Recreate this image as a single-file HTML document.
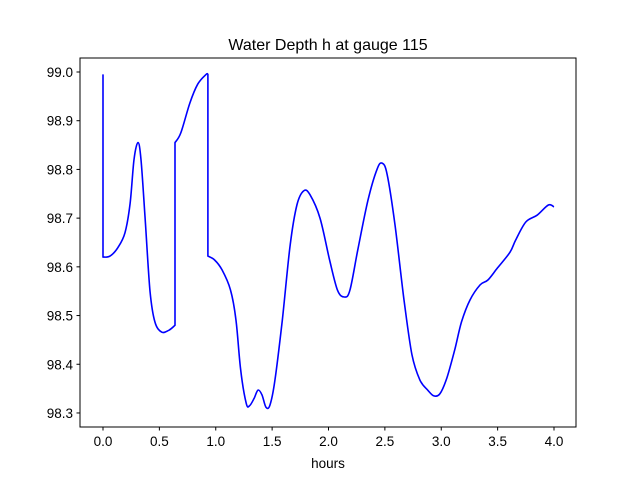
<!DOCTYPE html>
<html><head><meta charset="utf-8"><style>
html,body{margin:0;padding:0;background:#fff;}
svg{display:block;font-family:"Liberation Sans","DejaVu Sans",sans-serif;}
</style></head><body>
<svg id="chart" width="640" height="480">
<rect x="0" y="0" width="640" height="480" fill="#fff"/>
<text x="328" y="50" font-size="16" text-anchor="middle">Water Depth h at gauge 115</text>
<g id="plot"></g>
<rect x="80" y="58" width="496" height="369" fill="none" stroke="#000" stroke-width="1"/>
<text x="328" y="468" font-size="13.5" text-anchor="middle">hours</text>
</svg>
<script>
const hours=[0,0,0.062,0.133,0.195,0.24,0.275,0.31,0.337,0.373,0.417,0.46,0.52,0.585,0.639,0.639,0.69,0.77,0.84,0.914,0.93,0.93,0.99,1.055,1.13,1.18,1.22,1.27,1.30,1.34,1.375,1.41,1.445,1.48,1.525,1.59,1.66,1.72,1.78,1.836,1.925,2.01,2.08,2.14,2.19,2.26,2.35,2.43,2.475,2.52,2.59,2.67,2.74,2.81,2.88,2.935,2.99,3.05,3.12,3.18,3.255,3.345,3.414,3.50,3.61,3.66,3.75,3.85,3.95,4.0];
const depth=[98.995,98.62,98.622,98.64,98.67,98.73,98.82,98.855,98.82,98.70,98.55,98.487,98.466,98.47,98.48,98.855,98.875,98.936,98.975,98.995,98.995,98.622,98.614,98.594,98.553,98.49,98.39,98.32,98.315,98.33,98.347,98.337,98.312,98.316,98.367,98.49,98.645,98.727,98.756,98.748,98.70,98.614,98.552,98.538,98.552,98.635,98.737,98.8,98.813,98.79,98.686,98.532,98.42,98.368,98.347,98.335,98.34,98.372,98.43,98.487,98.532,98.563,98.573,98.598,98.63,98.655,98.692,98.706,98.727,98.723];
const xTicks=[0.0,0.5,1.0,1.5,2.0,2.5,3.0,3.5,4.0];
const yTicks=[98.3,98.4,98.5,98.6,98.7,98.8,98.9,99.0];
const NS="http://www.w3.org/2000/svg";
const sx=v=>103+v*112.75;
const sy=v=>72+(99.0-v)*487.1;
const g=document.getElementById('plot');
function mk(t,a){const e=document.createElementNS(NS,t);for(const k in a)e.setAttribute(k,a[k]);g.appendChild(e);return e;}
xTicks.forEach(t=>{
  const l=mk('line',{x1:sx(t),x2:sx(t),y1:427,y2:430.5,stroke:'#000'});
  
  
  const tx=mk('text',{x:sx(t),y:446,'font-size':13.5,'text-anchor':'middle'});
  tx.textContent=t.toFixed(1);
  
  
});
yTicks.forEach(t=>{
  const l=mk('line',{x1:76.5,x2:80,y1:sy(t),y2:sy(t),stroke:'#000'});
  
  
  const tx=mk('text',{x:73,y:sy(t)+5,'font-size':13.5,'text-anchor':'end'});
  tx.textContent=t.toFixed(1);
  
  
});
const P=hours.map((h,i)=>[sx(h),sy(depth[i])]);
let d='M'+P[0][0].toFixed(1)+','+P[0][1].toFixed(1);
for(let i=0;i<P.length-1;i++){
  const p1=P[i],p2=P[i+1];
  if(Math.abs(p1[0]-p2[0])<0.01){d+=' L'+p2[0].toFixed(1)+','+p2[1].toFixed(1);continue;}
  let p0=P[i-1]||p1,p3=P[i+2]||p2;
  if(Math.abs(p0[0]-p1[0])<0.01)p0=p1;
  if(Math.abs(p3[0]-p2[0])<0.01)p3=p2;
  const c1=[p1[0]+(p2[0]-p0[0])/6,p1[1]+(p2[1]-p0[1])/6];
  const c2=[p2[0]-(p3[0]-p1[0])/6,p2[1]-(p3[1]-p1[1])/6];
  d+=' C'+c1[0].toFixed(1)+','+c1[1].toFixed(1)+' '+c2[0].toFixed(1)+','+c2[1].toFixed(1)+' '+p2[0].toFixed(1)+','+p2[1].toFixed(1);
}
const line=mk('path',{d:d,fill:'none',stroke:'#0000ff','stroke-width':1.6,'stroke-linejoin':'round'});


</script>
</body></html>
